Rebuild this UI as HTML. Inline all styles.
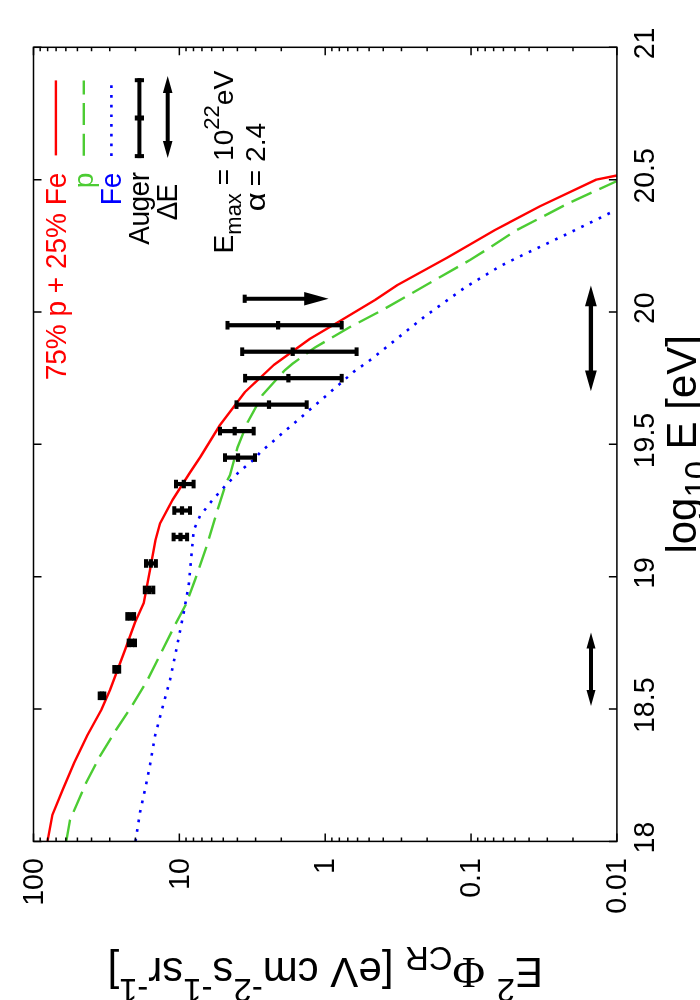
<!DOCTYPE html>
<html><head><meta charset="utf-8"><title>plot</title><style>html,body{margin:0;padding:0;background:#fff}body{width:700px;height:1000px;overflow:hidden}</style></head><body>
<svg width="700" height="1000" viewBox="0 0 700 1000" style="display:block;font-family:'Liberation Sans',sans-serif;will-change:transform">
<rect width="700" height="1000" fill="#fff"/>
<polyline fill="none" stroke="#ff0000" stroke-width="2.4" stroke-linejoin="round" points="47.50,841.40 52.40,814.90 62.60,790.00 74.30,762.50 87.50,735.00 101.25,710.00 110.00,690.00 117.50,670.00 125.00,650.00 135.00,622.50 143.75,603.00 150.00,570.00 155.50,540.00 160.00,523.50 172.50,500.00 190.00,472.50 200.00,457.50 220.00,425.00 245.00,392.00 273.75,365.00 310.00,338.75 340.00,321.00 350.00,315.00 375.00,300.00 397.50,285.00 447.50,257.50 470.00,244.50 495.00,230.00 540.00,206.25 596.25,179.65 616.90,175.50"/>
<polyline fill="none" stroke="#4ccc33" stroke-width="2.4" stroke-dasharray="22 8.6" points="66.25,841.40 70.00,820.00 86.25,782.50 100.00,756.00 116.00,730.00 132.50,705.00 147.50,680.00 162.50,650.00 175.00,625.00 186.25,603.75 195.00,580.00 206.25,547.50 217.50,510.00 226.25,482.50 230.00,475.00 237.50,447.50 247.50,422.50 262.50,395.00 285.00,370.00 292.50,363.75 315.00,347.50 350.00,327.00 382.50,310.00 470.00,260.00 490.00,247.50 515.00,231.00 570.00,202.50 616.50,181.25"/>
<polyline fill="none" stroke="#0000ff" stroke-width="2.6" stroke-dasharray="2.7 7" points="135.50,841.40 140.00,812.50 146.00,785.00 150.00,765.00 155.00,736.00 162.50,707.50 170.00,680.00 176.25,650.00 183.75,612.50 188.75,585.00 191.25,557.50 193.75,530.00 200.00,516.00 212.50,500.00 225.00,486.00 240.00,471.00 255.00,458.75 260.00,452.50 295.00,422.50 340.00,383.75 353.75,371.75 372.50,358.40 387.50,346.25 425.00,316.25 465.00,287.50 500.00,266.25 515.00,258.75 565.00,235.00 613.00,211.50"/>
<rect x="33.50" y="47.30" width="583.40" height="794.10" fill="none" stroke="#000" stroke-width="1.5"/>
<path d="M33.50 47.30v8 M33.50 841.40v-8 M135.44 47.30v4 M135.44 841.40v-4 M109.76 47.30v4 M109.76 841.40v-4 M91.54 47.30v4 M91.54 841.40v-4 M77.41 47.30v4 M77.41 841.40v-4 M65.86 47.30v4 M65.86 841.40v-4 M56.09 47.30v4 M56.09 841.40v-4 M47.63 47.30v4 M47.63 841.40v-4 M40.17 47.30v4 M40.17 841.40v-4 M179.35 47.30v8 M179.35 841.40v-8 M281.29 47.30v4 M281.29 841.40v-4 M255.61 47.30v4 M255.61 841.40v-4 M237.39 47.30v4 M237.39 841.40v-4 M223.26 47.30v4 M223.26 841.40v-4 M211.71 47.30v4 M211.71 841.40v-4 M201.94 47.30v4 M201.94 841.40v-4 M193.48 47.30v4 M193.48 841.40v-4 M186.02 47.30v4 M186.02 841.40v-4 M325.20 47.30v8 M325.20 841.40v-8 M427.14 47.30v4 M427.14 841.40v-4 M401.46 47.30v4 M401.46 841.40v-4 M383.24 47.30v4 M383.24 841.40v-4 M369.11 47.30v4 M369.11 841.40v-4 M357.56 47.30v4 M357.56 841.40v-4 M347.79 47.30v4 M347.79 841.40v-4 M339.33 47.30v4 M339.33 841.40v-4 M331.87 47.30v4 M331.87 841.40v-4 M471.05 47.30v8 M471.05 841.40v-8 M572.99 47.30v4 M572.99 841.40v-4 M547.31 47.30v4 M547.31 841.40v-4 M529.09 47.30v4 M529.09 841.40v-4 M514.96 47.30v4 M514.96 841.40v-4 M503.41 47.30v4 M503.41 841.40v-4 M493.64 47.30v4 M493.64 841.40v-4 M485.18 47.30v4 M485.18 841.40v-4 M477.72 47.30v4 M477.72 841.40v-4 M616.90 47.30v8 M616.90 841.40v-8 M33.50 841.40h8 M616.90 841.40h-8 M33.50 709.05h8 M616.90 709.05h-8 M33.50 576.70h8 M616.90 576.70h-8 M33.50 444.35h8 M616.90 444.35h-8 M33.50 312.00h8 M616.90 312.00h-8 M33.50 179.65h8 M616.90 179.65h-8 M33.50 47.30h8 M616.90 47.30h-8" stroke="#000" stroke-width="1.5" fill="none"/>
<g fill="#000"><rect x="98.70" y="693.71" width="6.60" height="4.2"/><rect x="97.70" y="691.51" width="4" height="8.6"/><rect x="102.30" y="691.51" width="4" height="8.6"/><rect x="99.80" y="691.56" width="4.2" height="8.5"/><rect x="113.30" y="667.24" width="6.90" height="4.2"/><rect x="112.30" y="665.04" width="4" height="8.6"/><rect x="117.20" y="665.04" width="4" height="8.6"/><rect x="114.65" y="665.09" width="4.2" height="8.5"/><rect x="127.70" y="640.77" width="8.30" height="4.2"/><rect x="126.70" y="638.58" width="4" height="8.6"/><rect x="133.00" y="638.58" width="4" height="8.6"/><rect x="129.90" y="638.62" width="4.2" height="8.5"/><rect x="126.30" y="614.30" width="8.80" height="4.2"/><rect x="125.30" y="612.10" width="4" height="8.6"/><rect x="132.10" y="612.10" width="4" height="8.6"/><rect x="128.50" y="612.15" width="4.2" height="8.5"/><rect x="143.80" y="587.84" width="10.50" height="4.2"/><rect x="142.80" y="585.64" width="4" height="8.6"/><rect x="151.30" y="585.64" width="4" height="8.6"/><rect x="147.10" y="585.69" width="4.2" height="8.5"/><rect x="145.00" y="561.36" width="11.90" height="4.2"/><rect x="144.00" y="559.16" width="4" height="8.6"/><rect x="153.90" y="559.16" width="4" height="8.6"/><rect x="148.70" y="559.21" width="4.2" height="8.5"/><rect x="172.60" y="534.89" width="15.50" height="4.2"/><rect x="171.60" y="532.69" width="4" height="8.6"/><rect x="185.10" y="532.69" width="4" height="8.6"/><rect x="178.40" y="532.74" width="4.2" height="8.5"/><rect x="173.30" y="508.42" width="17.70" height="4.2"/><rect x="172.30" y="506.22" width="4" height="8.6"/><rect x="188.00" y="506.22" width="4" height="8.6"/><rect x="179.90" y="506.27" width="4.2" height="8.5"/><rect x="175.00" y="481.95" width="19.60" height="4.2"/><rect x="174.00" y="479.75" width="4" height="8.6"/><rect x="191.60" y="479.75" width="4" height="8.6"/><rect x="181.70" y="479.80" width="4.2" height="8.5"/><rect x="224.00" y="455.49" width="32.00" height="4.2"/><rect x="223.00" y="453.29" width="4" height="8.6"/><rect x="253.00" y="453.29" width="4" height="8.6"/><rect x="235.90" y="453.34" width="4.2" height="8.5"/><rect x="219.00" y="429.01" width="35.70" height="4.2"/><rect x="218.00" y="426.81" width="4" height="8.6"/><rect x="251.70" y="426.81" width="4" height="8.6"/><rect x="232.60" y="426.86" width="4.2" height="8.5"/><rect x="235.50" y="402.54" width="72.20" height="4.2"/><rect x="234.50" y="400.34" width="4" height="8.6"/><rect x="304.70" y="400.34" width="4" height="8.6"/><rect x="266.90" y="400.39" width="4.2" height="8.5"/><rect x="244.10" y="376.07" width="98.60" height="4.2"/><rect x="243.10" y="373.88" width="4" height="8.6"/><rect x="339.70" y="373.88" width="4" height="8.6"/><rect x="286.30" y="373.93" width="4.2" height="8.5"/><rect x="241.20" y="349.60" width="116.40" height="4.2"/><rect x="240.20" y="347.40" width="4" height="8.6"/><rect x="354.60" y="347.40" width="4" height="8.6"/><rect x="290.60" y="347.45" width="4.2" height="8.5"/><rect x="226.50" y="323.14" width="116.20" height="4.2"/><rect x="225.50" y="320.94" width="4" height="8.6"/><rect x="339.70" y="320.94" width="4" height="8.6"/><rect x="276.00" y="320.99" width="4.2" height="8.5"/><rect x="244.7" y="296.76" width="62" height="4"/><rect x="242.7" y="294.66" width="4" height="8.2"/><path d="M304.2 292.06 L328.6 298.76 L304.2 305.46Z"/></g>
<path d="M590.90 285.60 L596.80 306.20 L593.05 306.20 L593.05 370.60 L596.80 370.60 L590.90 391.20 L585.00 370.60 L588.75 370.60 L588.75 306.20 L585.00 306.20Z" fill="#000"/>
<path d="M591.00 632.50 L595.50 648.50 L593.00 648.50 L593.00 690.00 L595.50 690.00 L591.00 706.00 L586.50 690.00 L589.00 690.00 L589.00 648.50 L586.50 648.50Z" fill="#000"/>
<path d="M55.9 80.4V155.4" stroke="#ff0000" stroke-width="2.4"/>
<path d="M83.8 155.7V80.4" stroke="#4ccc33" stroke-width="2.4" stroke-dasharray="22 8.6"/>
<path d="M111.4 155.9V80.4" stroke="#0000ff" stroke-width="2.6" stroke-dasharray="2.7 7"/>
<g fill="#000"><rect x="137.4" y="78.2" width="4" height="79.9"/><rect x="134.8" y="78.2" width="9.2" height="4"/><rect x="134.8" y="154.1" width="9.2" height="4"/><rect x="134.8" y="115.5" width="9.2" height="5"/></g>
<path d="M167.70 76.00 L172.50 93.00 L169.70 93.00 L169.70 141.10 L172.50 141.10 L167.70 158.10 L162.90 141.10 L165.70 141.10 L165.70 93.00 L162.90 93.00Z" fill="#000"/>
<text transform="translate(65.50 172.60) rotate(-90) scale(1 1.040)" font-size="28" text-anchor="end" fill="#ff0000" >75% p + 25% Fe</text>
<text transform="translate(92.60 172.60) rotate(-90)" font-size="28" text-anchor="end" fill="#4ccc33" >p</text>
<text transform="translate(121.30 172.60) rotate(-90) scale(1 1.040)" font-size="28" text-anchor="end" fill="#0000ff" >Fe</text>
<text transform="translate(148.60 172.40) rotate(-90) scale(1 1.030)" font-size="28" text-anchor="end" fill="#000" letter-spacing="-0.45">Auger</text>
<text transform="translate(176.80 202.40) rotate(-90) scale(1 1.040)" font-size="28" text-anchor="middle" fill="#000" letter-spacing="-0.9">&#916;E</text>
<text transform="translate(232.80 162.10) rotate(-90)" font-size="28.2" text-anchor="middle" fill="#000" >E<tspan font-size="22.0" dy="8.2">max</tspan><tspan dy="-8.2">&#8203;</tspan> = 10<tspan font-size="22.0" dy="-14.1">22</tspan><tspan dy="14.1">&#8203;</tspan>eV</text>
<text transform="translate(264.70 154.60) rotate(-90)" font-size="28.2" text-anchor="middle" fill="#000" >= 2.4</text>
<text transform="translate(264.9 211.4) rotate(-90) scale(1.18 1)" font-size="28.2">&#945;</text>
<text transform="translate(42.90 858.20) rotate(-90) scale(1 1.040)" font-size="28.5" text-anchor="end" fill="#000" >100</text>
<text transform="translate(188.85 858.20) rotate(-90) scale(1 1.040)" font-size="28.5" text-anchor="end" fill="#000" >10</text>
<text transform="translate(334.20 858.20) rotate(-90) scale(1 1.040)" font-size="28.5" text-anchor="end" fill="#000" >1</text>
<text transform="translate(479.75 858.20) rotate(-90) scale(1 1.040)" font-size="28.5" text-anchor="end" fill="#000" >0.1</text>
<text transform="translate(626.00 858.20) rotate(-90) scale(1 1.040)" font-size="28.5" text-anchor="end" fill="#000" >0.01</text>
<text transform="translate(653.90 837.60) rotate(-90) scale(1 1.040)" font-size="28.5" text-anchor="middle" fill="#000" >18</text>
<text transform="translate(653.90 705.25) rotate(-90) scale(1 1.040)" font-size="28.5" text-anchor="middle" fill="#000" >18.5</text>
<text transform="translate(653.90 572.90) rotate(-90) scale(1 1.040)" font-size="28.5" text-anchor="middle" fill="#000" >19</text>
<text transform="translate(653.90 440.55) rotate(-90) scale(1 1.040)" font-size="28.5" text-anchor="middle" fill="#000" >19.5</text>
<text transform="translate(653.90 308.20) rotate(-90) scale(1 1.040)" font-size="28.5" text-anchor="middle" fill="#000" >20</text>
<text transform="translate(653.90 175.85) rotate(-90) scale(1 1.040)" font-size="28.5" text-anchor="middle" fill="#000" >20.5</text>
<text transform="translate(653.90 43.50) rotate(-90) scale(1 1.040)" font-size="28.5" text-anchor="middle" fill="#000" >21</text>
<text transform="translate(695.80 444.30) rotate(-90)" font-size="42" text-anchor="middle" fill="#000" >log<tspan font-size="32.8" dy="12.2">10</tspan><tspan dy="-12.2">&#8203;</tspan> E [eV]</text>
<text transform="translate(325.2 957.7) rotate(180)" font-size="42" text-anchor="middle">E<tspan font-size="32.8" dy="-21.0">2</tspan><tspan dy="21.0">&#8203;</tspan> <tspan font-family="'Liberation Serif',serif" font-size="44.5">&#934;</tspan><tspan font-size="32.8" dy="10.7">CR</tspan><tspan dy="-10.7">&#8203;</tspan> [eV cm<tspan font-size="32.8" dy="-21.0">-2</tspan><tspan dy="21.0">&#8203;</tspan>s<tspan font-size="32.8" dy="-21.0">-1</tspan><tspan dy="21.0">&#8203;</tspan>sr<tspan font-size="32.8" dy="-21.0">-1</tspan><tspan dy="21.0">&#8203;</tspan>]</text>
</svg>
</body></html>
